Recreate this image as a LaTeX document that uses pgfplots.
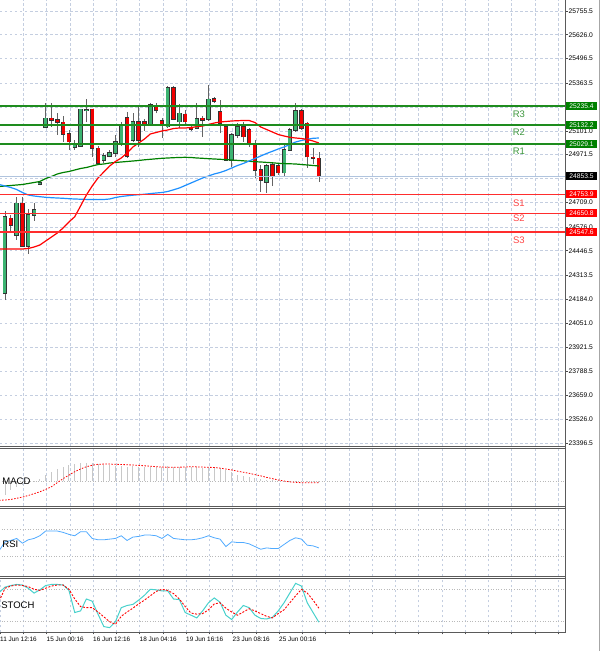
\documentclass[border=0pt]{standalone}
\usepackage{fontspec}
\setmainfont{Liberation Sans}
\usepackage{pgfplots}
\usepackage{pgfplotstable}
\pgfplotsset{compat=1.18}

\definecolor{gridc}{RGB}{196,206,224}
\definecolor{lvlc}{RGB}{185,185,185}
\definecolor{rline}{RGB}{30,140,30}
\definecolor{sline}{RGB}{255,45,45}
\definecolor{boxg}{RGB}{0,128,0}
\definecolor{boxr}{RGB}{255,0,0}
\definecolor{rtext}{RGB}{60,150,60}
\definecolor{stext}{RGB}{255,70,70}
\definecolor{upc}{RGB}{60,179,113}
\definecolor{dnc}{RGB}{240,0,0}
\definecolor{wickc}{RGB}{100,100,100}
\definecolor{mared}{RGB}{255,0,0}
\definecolor{mablue}{RGB}{30,144,255}
\definecolor{magreen}{RGB}{0,128,0}
\definecolor{curc}{RGB}{176,196,222}
\definecolor{histc}{RGB}{200,200,200}
\definecolor{rsic}{RGB}{80,170,255}
\definecolor{stmc}{RGB}{72,209,204}
\definecolor{framec}{RGB}{90,90,90}

\newcommand\lab{\fontsize{6.7}{7.5}\selectfont}
\newcommand\dlab{\fontsize{6.4}{7.5}\selectfont}
\newcommand\rsf{\fontsize{9.5}{11}\selectfont}

\pgfplotstableread{
k o h l c
0 24214.0 24663.4 24177.4 24632.3
1 24623.5 24641.6 24550.4 24587.0
2 24532.4 24741.5 24505.1 24705.5
3 24705.5 24741.5 24466.8 24472.3
4 24472.3 24674.3 24428.6 24641.6
5 24641.6 24707.1 24610.4 24668.9
6 24810.8 24821.8 24802.7 24816.3
7 25120.5 25253.2 25116.6 25169.6
8 25168.5 25253.2 25122.1 25157.6
9 25160.3 25196.9 25081.1 25146.7
10 25147.8 25182.2 25041.8 25083.9
11 25085.5 25105.7 24996.5 25041.8
12 25010.2 25051.1 24996.5 25023.8
13 25018.4 25220.4 25012.9 25217.7
14 25212.2 25273.4 25146.7 25214.9
15 25217.7 25220.4 24958.3 25005.8
16 25005.8 25018.4 24920.1 24922.8
17 24939.2 24977.4 24922.8 24964.8
18 24961.0 24996.5 24955.6 24980.1
19 24978.5 25078.4 24959.9 25041.8
20 25029.3 25149.4 25018.4 25133.0
21 25171.2 25205.6 24952.8 24961.0
22 25051.1 25196.9 25041.8 25151.0
23 25151.0 25233.0 25014.5 25051.1
24 25149.4 25165.8 25100.3 25135.8
25 25135.8 25253.2 25127.6 25242.2
26 25233.0 25251.5 25196.9 25214.9
27 25156.5 25171.2 25062.0 25129.2
28 25123.7 25343.3 25116.6 25335.1
29 25335.1 25343.3 25160.3 25165.8
30 25151.0 25247.7 25116.6 25196.9
31 25191.4 25214.9 25127.6 25151.0
32 25118.3 25133.0 25100.3 25109.5
33 25116.6 25251.5 25111.2 25165.8
34 25168.5 25182.2 25069.1 25157.6
35 25165.8 25351.4 25154.9 25273.4
36 25275.0 25285.9 25253.2 25264.1
37 25205.6 25269.5 25087.7 25142.3
38 25123.7 25133.0 24936.4 24941.9
39 24941.9 25089.3 24903.7 25078.4
40 25078.4 25143.9 25062.0 25123.7
41 25123.7 25149.4 25040.2 25069.1
42 25105.7 25116.6 25012.9 25033.1
43 25033.1 25051.1 24843.6 24887.3
44 24887.3 24914.6 24767.2 24832.7
45 24821.8 24920.1 24761.7 24909.1
46 24914.6 24925.5 24799.9 24850.7
47 24909.1 24920.1 24860.0 24872.5
48 24872.5 25023.8 24849.1 24996.5
49 24996.5 25116.6 24991.1 25105.7
50 25105.7 25253.2 25094.8 25211.1
51 25211.1 25220.4 25105.7 25115.0
52 25142.3 25149.4 24898.2 24959.9
53 24956.7 25007.4 24920.1 24950.1
54 24951.2 24985.6 24821.8 24853.5
}\candles

\pgfplotstableread{
k r g b
-1 24455.9 24797.2 24808.1
0 24455.9 24799.9 24799.9
1 24455.9 24802.7 24791.7
2 24455.9 24805.4 24780.8
3 24455.9 24808.1 24764.4
4 24458.6 24813.6 24750.8
5 24466.8 24819.0 24745.3
6 24477.8 24824.5 24741.5
7 24499.6 24840.9 24738.2
8 24521.4 24851.8 24736.0
9 24543.3 24865.5 24734.4
10 24570.6 24873.7 24732.8
11 24603.3 24879.1 24730.6
12 24632.3 24887.3 24728.9
13 24690.7 24895.5 24727.8
14 24750.8 24901.0 24726.7
15 24799.9 24909.1 24726.2
16 24843.6 24917.3 24725.6
17 24876.4 24920.1 24726.2
18 24909.1 24925.5 24728.9
19 24933.7 24928.3 24737.1
20 24952.8 24931.0 24742.6
21 24980.1 24933.7 24746.4
22 25012.9 24936.4 24749.7
23 25034.7 24939.2 24752.4
24 25056.6 24943.0 24755.1
25 25083.9 24945.7 24758.4
26 25092.1 24948.5 24761.7
27 25100.3 24951.2 24764.4
28 25105.7 24952.8 24769.9
29 25113.9 24954.5 24779.2
30 25116.6 24955.6 24789.0
31 25116.6 24956.6 24802.7
32 25119.4 24955.6 24816.3
33 25123.7 24952.8 24830.0
34 25127.6 24951.2 24843.6
35 25135.8 24949.0 24854.5
36 25143.9 24947.4 24865.5
37 25149.4 24945.7 24873.7
38 25152.1 24944.1 24884.6
39 25154.9 24941.9 24898.2
40 25156.5 24939.7 24911.9
41 25157.6 24937.5 24922.8
42 25157.6 24934.8 24936.4
43 25146.7 24932.6 24950.1
44 25122.1 24931.0 24963.7
45 25108.5 24928.8 24977.4
46 25094.8 24926.6 24989.4
47 25081.1 24923.9 25002.0
48 25073.0 24922.3 25012.9
49 25065.9 24921.2 25026.5
50 25062.0 24920.1 25040.2
51 25059.3 24917.3 25048.4
52 25053.8 24914.6 25054.9
53 25045.7 24911.9 25060.4
54 25034.7 24909.1 25062.0
}\mas

\pgfplotstableread{
k mh ms rsi sm ss
-1 -150 -180 38 74 58
0 -130 -177 51 84 82
1 -80 -172 53 87 86
2 -55 -161 56 89 88
3 -40 -150 49 88 87
4 -30 -135 54 82 85
5 -10 -118 56 73 80
6 20 -100 60 79 78
7 55 -78 67 87 82
8 87 -53 67 89 86
9 110 -15 67 89 88
10 130 22 65 88 88
11 145 55 62 78 80
12 158 87 60 37 62
13 165 112 66 40 48
14 171 133 66 62 46
15 168 147 56 58 46
16 158 156 54 34 38
17 150 158 54 11 29
18 145 158 55 9 20
19 140 156 56 20 15
20 140 154 60 46 30
21 135 152 53 50 38
22 138 149 58 52 45
23 135 146 59 60 53
24 132 142 61 69 60
25 135 138 61 80 68
26 135 133 60 79 76
27 130 130 56 77 80
28 138 129 62 77 78
29 135 128 56 62 72
30 130 129 55 61 62
31 130 131 54 37 48
32 128 133 54 32 36
33 128 132 55 27 34
34 125 130 57 40 35
35 130 128 60 55 42
36 130 126 57 64 53
37 120 120 55 56 55
38 100 112 44 32 45
39 85 103 51 24 38
40 60 92 50 38 32
41 50 82 50 50 38
42 40 72 48 46 44
43 25 60 44 32 40
44 15 48 40 26 35
45 10 34 42 25 30
46 5 22 41 28 27
47 5 10 41 40 35
48 0 0 47 55 42
49 -5 -8 53 73 55
50 -2 -12 57 91 68
51 -5 -16 55 86 80
52 -10 -17 46 55 73
53 -12 -17 45 37 60
54 -15 -16 42 19 45
}\ind

\pgfplotsset{
  panel/.style={scale only axis, width=565pt, xmin=-0.86, xmax=96.34,
    axis line style={draw=none},
    xtick={3.14,7.14,11.14,15.14,19.14,23.14,27.14,31.14,35.14,39.14,43.14,47.14,51.14,55.14,59.14,63.14,67.14,71.14,75.14,79.14,83.14,87.14,91.14,95.14},
    xticklabels={}, xtick style={draw=none},
    xmajorgrids, major grid style={gridc, dash pattern=on 2.5pt off 2.5pt, line width=0.5pt},
    ytick=\empty, clip=true},
  candle/.style={draw=none, mark=none, forget plot,
    error bars/.cd, y dir=plus, y explicit, error mark=none,
    error bar style={#1}},
}

\begin{document}
\begin{tikzpicture}
\path[use as bounding box] (0pt,0pt) rectangle (600pt,651pt);

% ---------- main price panel ----------
\begin{axis}[panel, at={(0pt,651pt)}, anchor=north west, height=446pt,
  ymin=23380.2, ymax=25815.6,
  ytick={23396.5,23526.0,23659.0,23788.5,23921.5,24051.0,24184.0,24313.5,24446.5,24576.0,24709.0,24840.5,24971.5,25101.0,25232.5,25363.5,25496.5,25626.0,25755.5},
  yticklabels={23396.5,23526.0,23659.0,23788.5,23921.5,24051.0,24184.0,24313.5,24446.5,24576.0,24709.0,,24971.5,25101.0,,25363.5,25496.5,25626.0,25755.5},
  ymajorgrids, yticklabel pos=right, ytick pos=right, tick align=outside,
  major tick length=3pt, ytick style={black!70, line width=0.5pt},
  yticklabel style={font=\lab, anchor=west, inner sep=0pt, xshift=0.5pt}]

% wicks
\addplot[candle={draw=wickc, line width=0.7pt}]
  table[x=k, y=l, y error plus expr=\thisrow{h}-\thisrow{l}] {\candles};
% body outlines
\addplot[candle={draw=black!80, line width=4.4pt}]
  table[x=k, y expr={min(\thisrow{o},\thisrow{c})-4}, y error plus expr={abs(\thisrow{c}-\thisrow{o})+8}] {\candles};
% bullish bodies
\addplot[candle={draw=upc, line width=3pt}]
  table[x=k, y expr={min(\thisrow{o},\thisrow{c})}, y error plus expr={(\thisrow{c}>=\thisrow{o})*(\thisrow{c}-\thisrow{o})}] {\candles};
% bearish bodies
\addplot[candle={draw=dnc, line width=3pt}]
  table[x=k, y expr={min(\thisrow{o},\thisrow{c})}, y error plus expr={(\thisrow{o}>\thisrow{c})*(\thisrow{o}-\thisrow{c})}] {\candles};

% moving averages
\addplot[magreen, line width=1.2pt, mark=none] table[x=k, y=g] {\mas};
\addplot[mablue, line width=1.2pt, mark=none] table[x=k, y=b] {\mas};
\addplot[mared, line width=1.2pt, mark=none] table[x=k, y=r] {\mas};

% current price
\addplot[curc, line width=0.8pt, mark=none] coordinates {(-1,24853.5) (97,24853.5)};
% pivot levels
\addplot[rline, line width=1.6pt, mark=none] coordinates {(-1,25235.4) (97,25235.4)};
\addplot[rline, line width=1.6pt, mark=none] coordinates {(-1,25132.2) (97,25132.2)};
\addplot[rline, line width=1.6pt, mark=none] coordinates {(-1,25029.1) (97,25029.1)};
\addplot[sline, line width=1.6pt, mark=none] coordinates {(-1,24753.9) (97,24753.9)};
\addplot[sline, line width=1.6pt, mark=none] coordinates {(-1,24650.8) (97,24650.8)};
\addplot[sline, line width=1.6pt, mark=none] coordinates {(-1,24547.6) (97,24547.6)};

\node[text=rtext, font=\rsf] at (axis cs:88.4,25193) {R3};
\node[text=rtext, font=\rsf] at (axis cs:88.4,25095) {R2};
\node[text=rtext, font=\rsf] at (axis cs:88.4,24991) {R1};
\node[text=stext, font=\rsf] at (axis cs:88.4,24707) {S1};
\node[text=stext, font=\rsf] at (axis cs:88.4,24625) {S2};
\node[text=stext, font=\rsf] at (axis cs:88.4,24505) {S3};

\coordinate (bR3) at (axis cs:96.34,25235.4);
\coordinate (bR2) at (axis cs:96.34,25132.2);
\coordinate (bR1) at (axis cs:96.34,25029.1);
\coordinate (bCP) at (axis cs:96.34,24853.5);
\coordinate (bS1) at (axis cs:96.34,24753.9);
\coordinate (bS2) at (axis cs:96.34,24650.8);
\coordinate (bS3) at (axis cs:96.34,24547.6);
\end{axis}

% ---------- MACD ----------
\begin{axis}[panel, at={(0pt,203pt)}, anchor=north west, height=58pt,
  ymin=-233, ymax=308]
\addplot[ycomb, histc, line width=0.9pt, mark=none] table[x=k, y=mh] {\ind};
\addplot[lvlc, dotted, line width=0.6pt, mark=none] coordinates {(-1,0) (97,0)};
\addplot[mared, line width=0.8pt, dash pattern=on 1.5pt off 1.5pt, mark=none] table[x=k, y=ms] {\ind};
\node[anchor=west, font=\rsf, inner sep=0pt] at (axis description cs:0.004,0.43) {MACD};
\node[anchor=west, font=\lab, inner sep=0pt, xshift=3pt] at (axis description cs:1,0.922) {270.46};
\node[anchor=west, font=\lab, inner sep=0pt, xshift=3pt] at (axis description cs:1,0.431) {0.00};
\node[anchor=west, font=\lab, inner sep=0pt, xshift=3pt] at (axis description cs:1,0.07) {-215.71};
\end{axis}

% ---------- RSI ----------
\begin{axis}[panel, at={(0pt,142.25pt)}, anchor=north west, height=67.5pt,
  ymin=0, ymax=100]
\addplot[lvlc, dotted, line width=0.6pt, mark=none] coordinates {(-1,70) (97,70)};
\addplot[lvlc, dotted, line width=0.6pt, mark=none] coordinates {(-1,30) (97,30)};
\addplot[rsic, line width=0.8pt, mark=none] table[x=k, y=rsi] {\ind};
\node[anchor=west, font=\rsf, inner sep=0pt] at (axis description cs:0.004,0.478) {RSI};
\node[anchor=west, font=\lab, inner sep=0pt, xshift=3pt] at (axis description cs:1,0.922) {100};
\node[anchor=west, font=\lab, inner sep=0pt, xshift=3pt] at (axis description cs:1,0.707) {70};
\node[anchor=west, font=\lab, inner sep=0pt, xshift=3pt] at (axis description cs:1,0.293) {30};
\node[anchor=west, font=\lab, inner sep=0pt, xshift=3pt] at (axis description cs:1,0.078) {0};
\end{axis}

% ---------- STOCH ----------
\begin{axis}[panel, at={(0pt,72.5pt)}, anchor=north west, height=54pt,
  ymin=0, ymax=100,
  xtick={-0.86,3.14,7.14,11.14,15.14,19.14,23.14,27.14,31.14,35.14,39.14,43.14,47.14,51.14,55.14,59.14,63.14,67.14,71.14,75.14,79.14,83.14,87.14,91.14,95.14},
  xticklabels={11 Jun 12:16,,15 Jun 00:16,,16 Jun 12:16,,18 Jun 04:16,,19 Jun 16:16,,23 Jun 08:16,,25 Jun 00:16},
  xtick pos=lower, tick align=outside, major tick length=2pt,
  xtick style={draw=black!70, line width=0.5pt},
  xticklabel style={font=\dlab, anchor=north west, inner sep=0pt, yshift=-2pt}]
\addplot[lvlc, dotted, line width=0.6pt, mark=none] coordinates {(-1,80) (97,80)};
\addplot[lvlc, dotted, line width=0.6pt, mark=none] coordinates {(-1,20) (97,20)};
\addplot[stmc, line width=1pt, mark=none] table[x=k, y=sm] {\ind};
\addplot[mared, line width=0.9pt, dash pattern=on 2pt off 1.5pt, mark=none] table[x=k, y=ss] {\ind};
\node[anchor=west, font=\rsf, inner sep=0pt] at (axis description cs:0.002,0.51) {STOCH};
\node[anchor=west, font=\lab, inner sep=0pt, xshift=3pt] at (axis description cs:1,0.917) {100};
\node[anchor=west, font=\lab, inner sep=0pt, xshift=3pt] at (axis description cs:1,0.787) {80};
\node[anchor=west, font=\lab, inner sep=0pt, xshift=3pt] at (axis description cs:1,0.2) {20};
\node[anchor=west, font=\lab, inner sep=0pt, xshift=3pt] at (axis description cs:1,0.089) {0};
\end{axis}

% price boxes
\foreach \n/\c/\t in {bR3/boxg/25235.4, bR2/boxg/25132.2, bR1/boxg/25029.1, bCP/black/24853.5, bS1/boxr/24753.9, bS2/boxr/24650.8, bS3/boxr/24547.6}
  \node[fill=\c, text=white, font=\lab, anchor=west, inner sep=0.5pt, minimum height=8pt, minimum width=31pt, xshift=0.8pt] at (\n) {\t};

% frames
\draw[framec, line width=1pt] (565pt,651pt) -- (565pt,18.5pt);
\foreach \yy in {205,203,145,142.25,74.75,72.5,18.5}
  \draw[framec, line width=0.9pt] (0pt,\yy pt) -- (565.5pt,\yy pt);
\draw[black!35, line width=1pt] (599pt,0pt) -- (599pt,651pt);
\end{tikzpicture}
\end{document}
